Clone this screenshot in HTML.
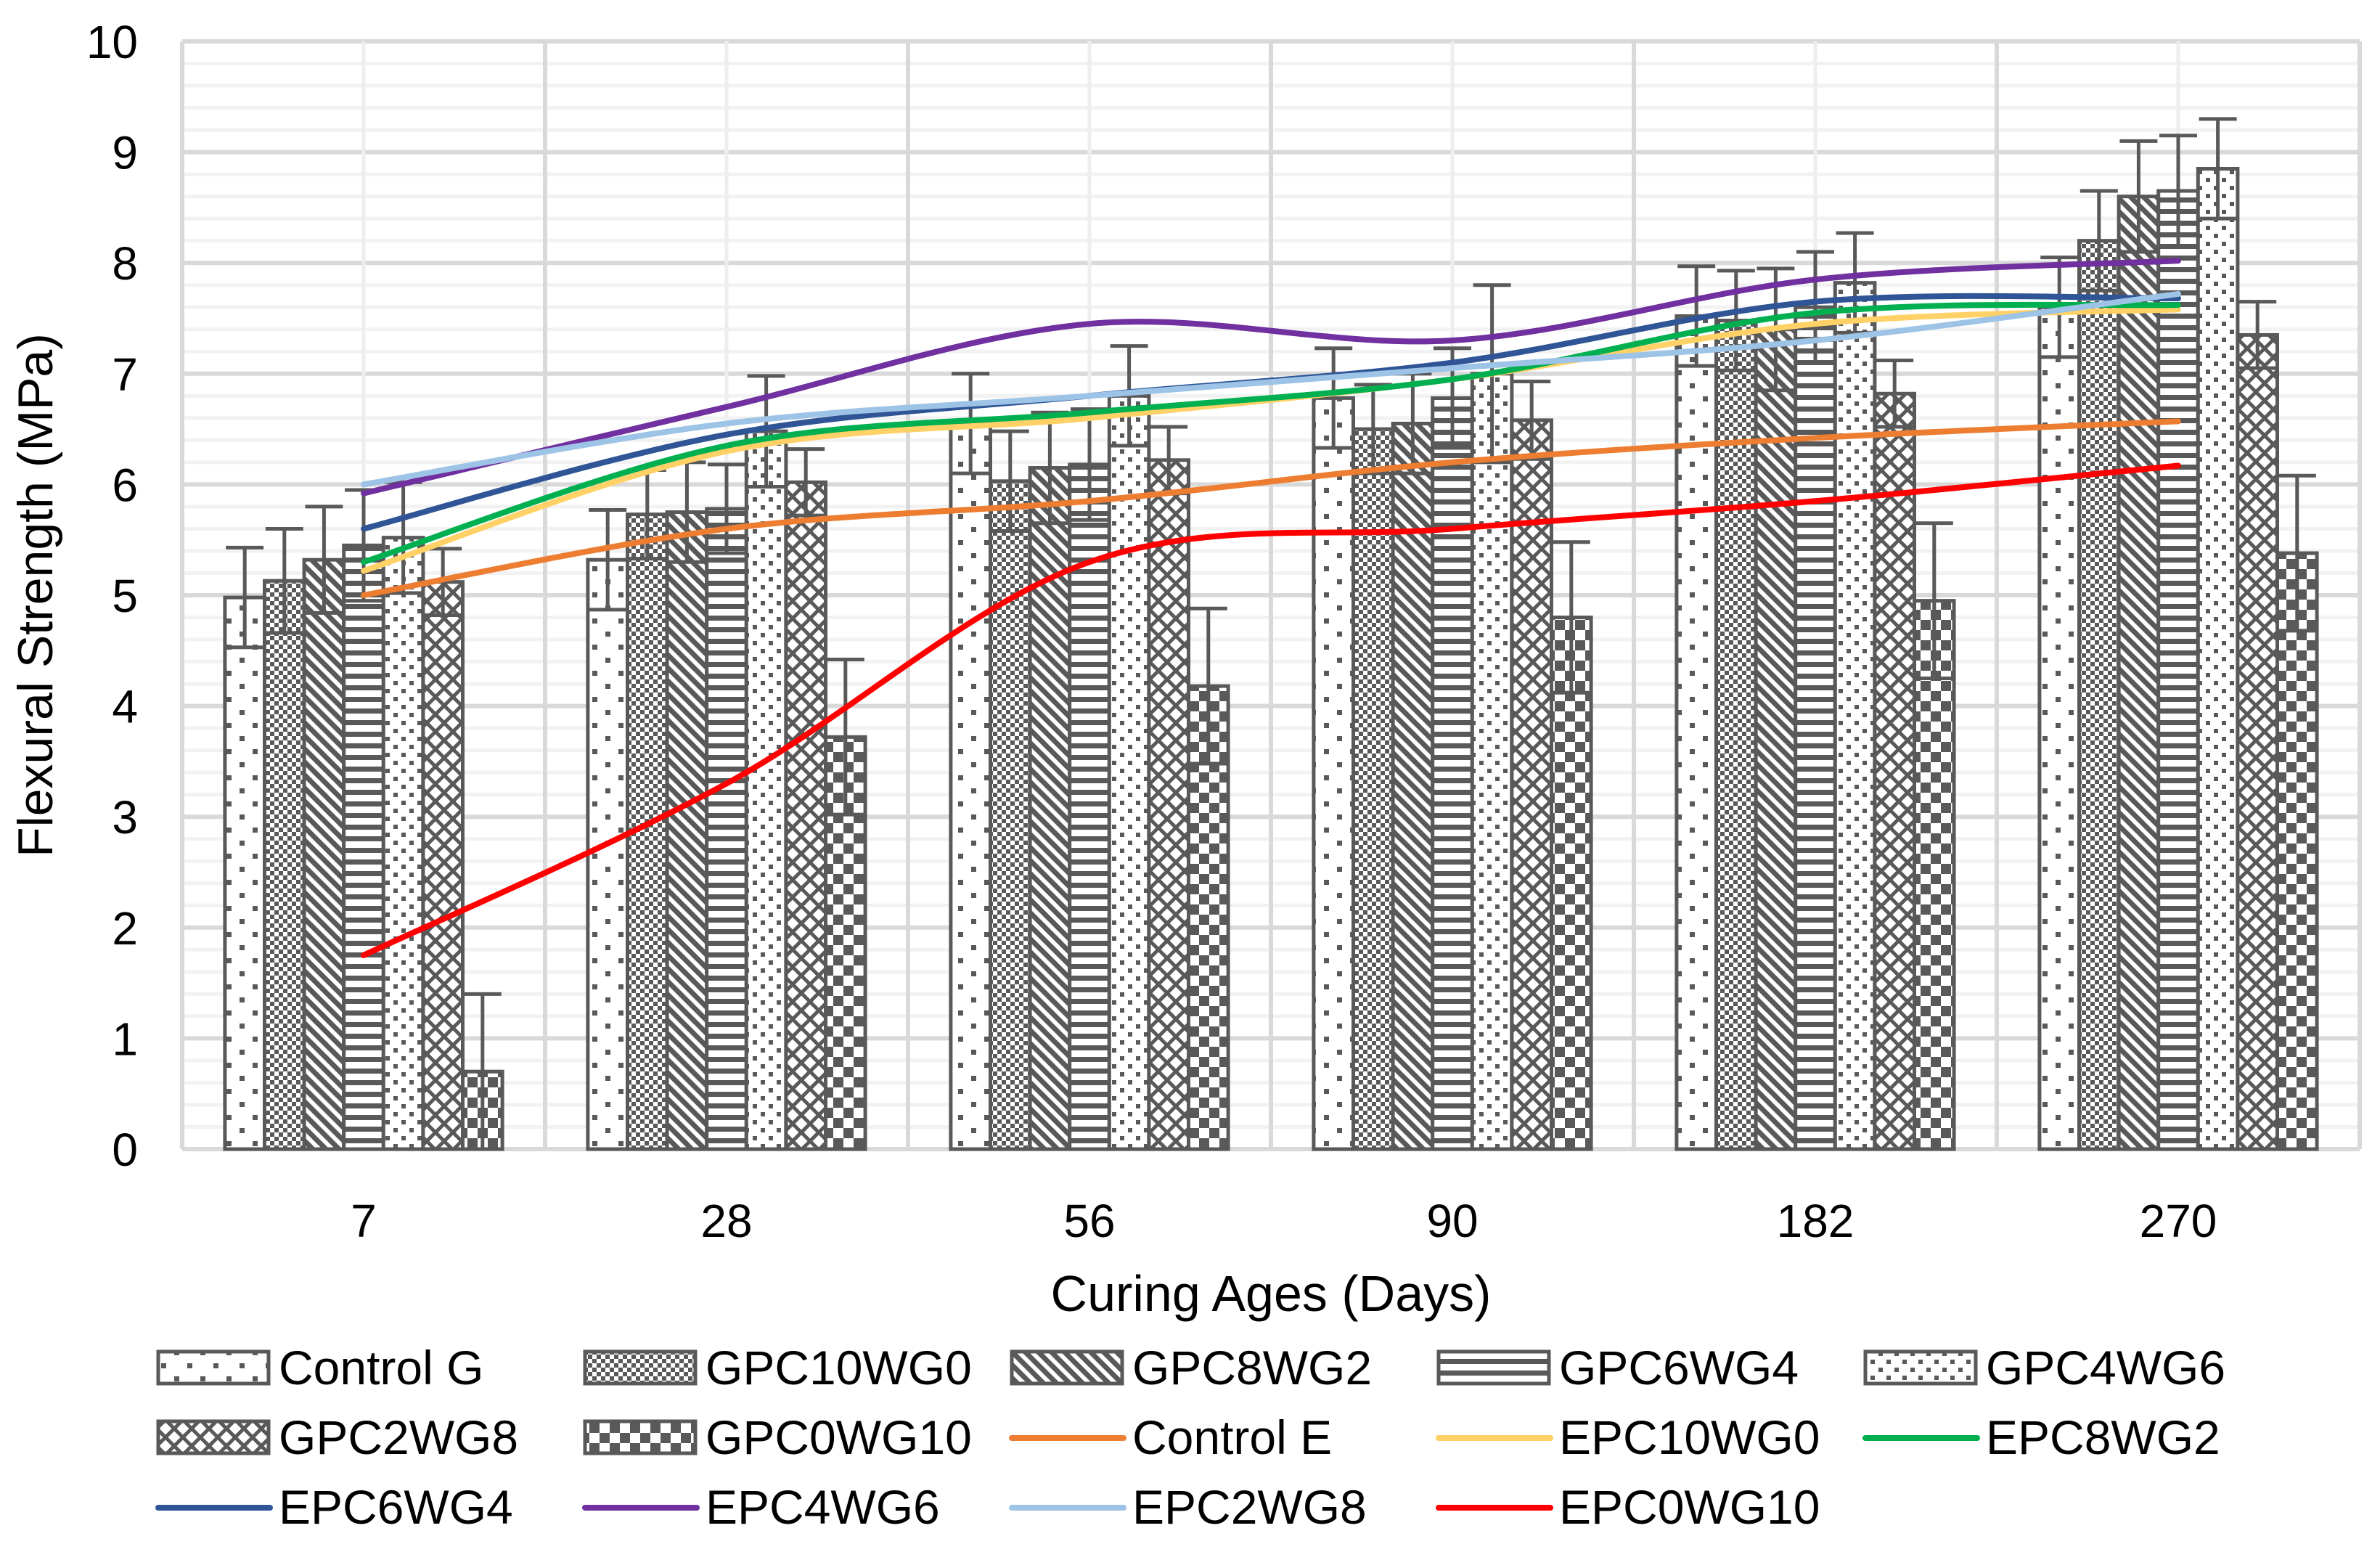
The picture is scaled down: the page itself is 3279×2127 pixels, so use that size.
<!DOCTYPE html>
<html><head><meta charset="utf-8"><style>
html,body{margin:0;padding:0;background:#fff;width:3279px;height:2127px;overflow:hidden}
svg text{font-family:"Liberation Sans",Arial,sans-serif;fill:#000}
</style></head><body>
<svg id="chart" width="3279" height="2127" viewBox="0 0 3279 2127" xmlns="http://www.w3.org/2000/svg">
<defs>
<pattern id="p0" width="36" height="36" patternUnits="userSpaceOnUse"><rect width="36" height="36" fill="#fff"/><rect x="6" y="6" width="7" height="7" fill="#595959"/><rect x="24" y="24" width="7" height="7" fill="#595959"/></pattern>
<pattern id="p1" width="12" height="12" patternUnits="userSpaceOnUse"><rect width="12" height="12" fill="#fff"/><rect width="6" height="6" fill="#595959"/><rect x="6" y="6" width="6" height="6" fill="#595959"/></pattern>
<pattern id="p2" width="18" height="18" patternUnits="userSpaceOnUse"><rect width="18" height="18" fill="#fff"/><path d="M-4,-4 L22,22 M-4,14 L4,22 M14,-4 L22,4" stroke="#595959" stroke-width="7"/></pattern>
<pattern id="p3" width="20" height="16" patternUnits="userSpaceOnUse"><rect width="20" height="16" fill="#fff"/><rect y="0" width="20" height="7" fill="#595959"/></pattern>
<pattern id="p4" width="22" height="22" patternUnits="userSpaceOnUse"><rect width="22" height="22" fill="#fff"/><rect x="3" y="3" width="6" height="6" fill="#595959"/><rect x="14" y="14" width="6" height="6" fill="#595959"/></pattern>
<pattern id="p5" width="24" height="24" patternUnits="userSpaceOnUse"><rect width="24" height="24" fill="#fff"/><path d="M0,0 L12,12 L24,0 M0,24 L12,12 L24,24" stroke="#595959" stroke-width="5" fill="none"/></pattern>
<pattern id="p6" width="28" height="28" patternUnits="userSpaceOnUse"><rect width="28" height="28" fill="#fff"/><rect width="14" height="14" fill="#595959"/><rect x="14" y="14" width="14" height="14" fill="#595959"/></pattern>
</defs>
<g id="grid"></g>
<g id="bars"></g>
<g id="lines"></g>
<g id="axes"></g>
<text transform="translate(72,820) rotate(-90)" font-size="68" text-anchor="middle">Flexural Strength (MPa)</text>
<text x="1751" y="1806" font-size="70" text-anchor="middle">Curing Ages (Days)</text>
<g id="legend"></g>
</svg>
<script>
const categories = ["7","28","56","90","182","270"];
const yTicks = [0,1,2,3,4,5,6,7,8,9,10];
const barNames = ["Control G","GPC10WG0","GPC8WG2","GPC6WG4","GPC4WG6","GPC2WG8","GPC0WG10"];
const controlG = [4.98,5.32,6.55,6.78,7.52,7.6];
const gpc10wg0 = [5.13,5.73,6.03,6.5,7.48,8.2];
const gpc8wg2 = [5.32,5.75,6.15,6.55,7.4,8.6];
const gpc6wg4 = [5.45,5.78,6.18,6.78,7.6,8.65];
const gpc4wg6 = [5.52,6.48,6.8,7.0,7.82,8.85];
const gpc2wg8 = [5.12,6.02,6.22,6.58,6.82,7.35];
const gpc0wg10 = [0.7,3.72,4.18,4.8,4.95,5.38];
const errControlG = [0.45,0.45,0.45,0.45,0.45,0.45];
const errGpc10wg0 = [0.47,0.4,0.45,0.4,0.45,0.45];
const errGpc8wg2 = [0.48,0.45,0.5,0.45,0.55,0.5];
const errGpc6wg4 = [0.5,0.4,0.5,0.45,0.5,0.5];
const errGpc4wg6 = [0.5,0.5,0.45,0.8,0.45,0.45];
const errGpc2wg8 = [0.3,0.3,0.3,0.35,0.3,0.3];
const errGpc0wg10 = [0.7,0.7,0.7,0.68,0.7,0.7];
const lineNames = ["Control E","EPC10WG0","EPC8WG2","EPC6WG4","EPC4WG6","EPC2WG8","EPC0WG10"];
const controlE = [5.0,5.6,5.85,6.2,6.42,6.57];
const epc10wg0 = [5.22,6.3,6.6,6.95,7.45,7.58];
const epc8wg2 = [5.3,6.35,6.65,6.95,7.55,7.62];
const epc6wg4 = [5.6,6.45,6.8,7.1,7.65,7.68];
const epc4wg6 = [5.92,6.7,7.45,7.3,7.85,8.02];
const epc2wg8 = [6.0,6.55,6.8,7.05,7.3,7.72];
const epc0wg10 = [1.75,3.3,5.3,5.6,5.85,6.17];

const barSeries=[controlG,gpc10wg0,gpc8wg2,gpc6wg4,gpc4wg6,gpc2wg8,gpc0wg10];
const barErr=[errControlG,errGpc10wg0,errGpc8wg2,errGpc6wg4,errGpc4wg6,errGpc2wg8,errGpc0wg10];
const lineSeries=[controlE,epc10wg0,epc8wg2,epc6wg4,epc4wg6,epc2wg8,epc0wg10];
const lineColors=["#ED7D31","#FFD166","#00B050","#2F5597","#7030A0","#9DC3E6","#FF0000"];
const NS="http://www.w3.org/2000/svg";
const L=251,R=3251,T=57,B=1583;
const catW=(R-L)/categories.length, barW=54.6;
const y=v=>B-(v-yTicks[0])/(yTicks[yTicks.length-1]-yTicks[0])*(B-T);
const xc=i=>L+catW*(i+0.5);
function mk(tag,attrs,parent){const e=document.createElementNS(NS,tag);for(const k in attrs)e.setAttribute(k,attrs[k]);parent.appendChild(e);return e;}
const grid=document.getElementById('grid');
for(let v=0;v<=10.001;v+=0.2){const ln=mk('line',{x1:L,x2:R,y1:y(v),y2:y(v),stroke:Math.abs(v-Math.round(v))<0.01?'#d9d9d9':'#f2f2f2','stroke-width':Math.abs(v-Math.round(v))<0.01?6:5},grid);

}
for(let i=0;i<=categories.length;i++){const ln=mk('line',{x1:L+catW*i,x2:L+catW*i,y1:T,y2:B,stroke:'#d9d9d9','stroke-width':6},grid);

}
for(let i=0;i<categories.length;i++){const ln=mk('line',{x1:xc(i),x2:xc(i),y1:T,y2:B,stroke:'#eeeeee','stroke-width':5},grid);

}
const axes=document.getElementById('axes');
yTicks.forEach(v=>{const t=mk('text',{x:190,y:y(v)+23,'font-size':64,'text-anchor':'end'},axes);t.textContent=v;

});
categories.forEach((c,i)=>{const t=mk('text',{x:xc(i),y:1704,'font-size':64,'text-anchor':'middle'},axes);t.textContent=c;

});
const bars=document.getElementById('bars');
barSeries.forEach((s,k)=>{s.forEach((v,i)=>{const x0=L+catW*i+(catW-7*barW)/2+k*barW;
const r=mk('rect',{x:x0,y:y(v),width:barW,height:B-y(v),fill:'url(#p'+k+')',stroke:'#595959','stroke-width':5},bars);


const e=barErr[k][i],cx=x0+barW/2;
const eb=mk('path',{d:`M${cx},${y(v+e)}V${y(Math.max(0,v-e))}M${cx-26},${y(v+e)}h52M${cx-26},${y(Math.max(0,v-e))}h52`,stroke:'#595959','stroke-width':5,fill:'none'},bars);

});});
function smooth(pts){let d=`M${pts[0][0]},${pts[0][1]}`;for(let i=0;i<pts.length-1;i++){const p0=pts[Math.max(0,i-1)],p1=pts[i],p2=pts[i+1],p3=pts[Math.min(pts.length-1,i+2)];const t=1/6;
d+=`C${p1[0]+(p2[0]-p0[0])*t},${p1[1]+(p2[1]-p0[1])*t} ${p2[0]-(p3[0]-p1[0])*t},${p2[1]-(p3[1]-p1[1])*t} ${p2[0]},${p2[1]}`;}return d;}
const lines=document.getElementById('lines');
lineSeries.forEach((s,k)=>{const p=mk('path',{d:smooth(s.map((v,i)=>[xc(i),y(v)])),stroke:lineColors[k],'stroke-width':8,fill:'none','stroke-linecap':'round'},lines);

});
const leg=document.getElementById('legend');
const allNames=barNames.concat(lineNames);
allNames.forEach((n,j)=>{const col=j%5,row=Math.floor(j/5);const x=218+col*588,yy=1882+row*96;
const g=mk('g',{},leg);


if(j<7){mk('rect',{x:x,y:yy-20,width:152,height:44,fill:'url(#p'+j+')',stroke:'#595959','stroke-width':5},g);}
else{mk('line',{x1:x,x2:x+154,y1:yy+3,y2:yy+3,stroke:lineColors[j-7],'stroke-width':8,'stroke-linecap':'round'},g);}
const t=mk('text',{x:x+166,y:yy+25,'font-size':66},g);t.textContent=n;});
</script>
</body></html>
